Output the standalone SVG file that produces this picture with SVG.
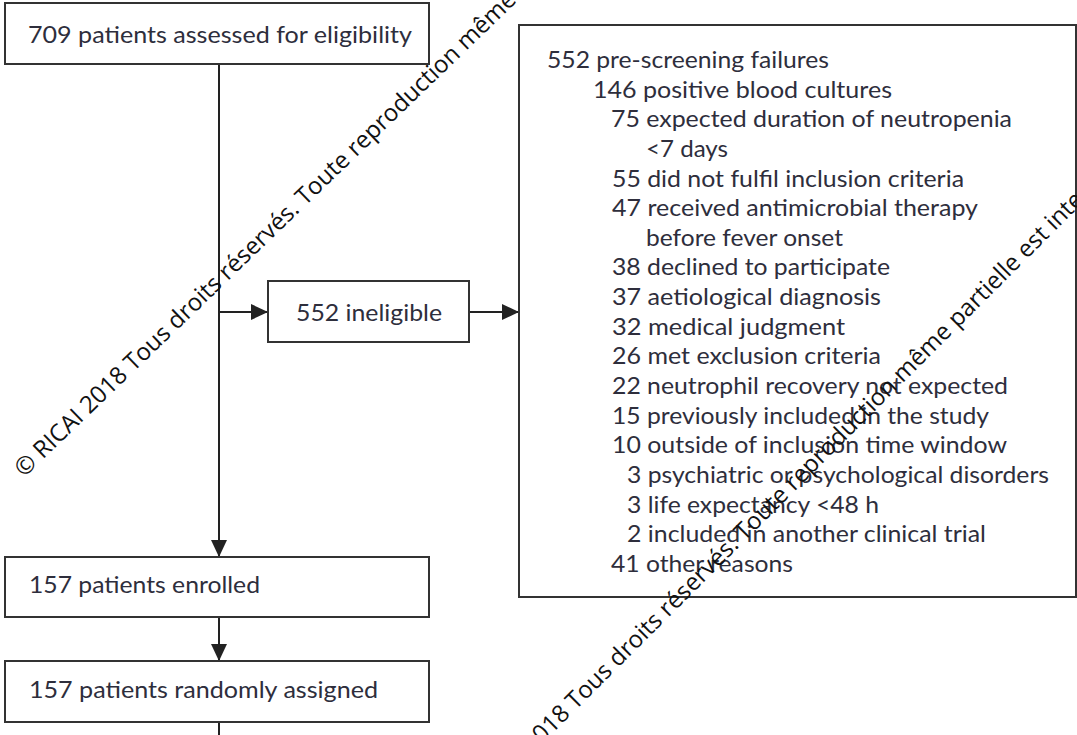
<svg xmlns="http://www.w3.org/2000/svg" width="1077" height="735" viewBox="0 0 1077 735">
<style>
.box{fill:#fff;stroke:#333;stroke-width:2}
.t{font-family:"Lato","Open Sans",sans-serif;font-size:23px;fill:#2e2e3c}
.c{stroke:#222;stroke-width:2;fill:none}
.wm{font-family:"Open Sans","DejaVu Sans",sans-serif;font-size:24px;fill:#111}
</style>
<defs>
<marker id="ah" markerUnits="userSpaceOnUse" markerWidth="17" markerHeight="16" refX="17" refY="8" orient="auto">
<path d="M0,0 L17,8 L0,16 z" fill="#222"/>
</marker>
</defs>
<rect width="1077" height="735" fill="#fff"/>
<g id="connectors">
<line class="c" x1="219" y1="64" x2="219" y2="557" marker-end="url(#ah)"/>
<line class="c" x1="219" y1="312" x2="268" y2="312" marker-end="url(#ah)"/>
<line class="c" x1="469" y1="312" x2="519" y2="312" marker-end="url(#ah)"/>
<line class="c" x1="219" y1="617" x2="219" y2="661" marker-end="url(#ah)"/>
<line class="c" x1="219" y1="722" x2="219" y2="735"/>
</g>
<g id="assessed">
<rect class="box" x="5" y="3" width="424" height="61"/>
<text class="t" x="28" y="43" textLength="384" lengthAdjust="spacingAndGlyphs">709 patients assessed for eligibility</text>
</g>
<g id="ineligible">
<rect class="box" x="268" y="281" width="201" height="61"/>
<text class="t" x="296" y="321" textLength="146" lengthAdjust="spacingAndGlyphs">552 ineligible</text>
</g>
<g id="enrolled">
<rect class="box" x="5" y="557" width="424" height="60"/>
<text class="t" x="29" y="593" textLength="231" lengthAdjust="spacingAndGlyphs">157 patients enrolled</text>
</g>
<g id="randomised">
<rect class="box" x="5" y="661" width="424" height="61"/>
<text class="t" x="29" y="698" textLength="349" lengthAdjust="spacingAndGlyphs">157 patients randomly assigned</text>
</g>
<g id="failures">
<rect class="box" x="519" y="25" width="557" height="572"/>
<text class="t" x="547" y="68" textLength="282" lengthAdjust="spacingAndGlyphs">552 pre-screening failures</text>
<text class="t" x="593" y="98" textLength="299" lengthAdjust="spacingAndGlyphs">146 positive blood cultures</text>
<text class="t" x="611" y="127" textLength="401" lengthAdjust="spacingAndGlyphs">75 expected duration of neutropenia</text>
<text class="t" x="646" y="157" textLength="82" lengthAdjust="spacingAndGlyphs">&lt;7 days</text>
<text class="t" x="612" y="187" textLength="352" lengthAdjust="spacingAndGlyphs">55 did not fulfil inclusion criteria</text>
<text class="t" x="612" y="216" textLength="366" lengthAdjust="spacingAndGlyphs">47 received antimicrobial therapy</text>
<text class="t" x="646" y="246" textLength="197" lengthAdjust="spacingAndGlyphs">before fever onset</text>
<text class="t" x="612" y="275" textLength="278" lengthAdjust="spacingAndGlyphs">38 declined to participate</text>
<text class="t" x="612" y="305" textLength="269" lengthAdjust="spacingAndGlyphs">37 aetiological diagnosis</text>
<text class="t" x="612" y="335" textLength="233" lengthAdjust="spacingAndGlyphs">32 medical judgment</text>
<text class="t" x="612" y="364" textLength="269" lengthAdjust="spacingAndGlyphs">26 met exclusion criteria</text>
<text class="t" x="612" y="394" textLength="396" lengthAdjust="spacingAndGlyphs">22 neutrophil recovery not expected</text>
<text class="t" x="612" y="424" textLength="377" lengthAdjust="spacingAndGlyphs">15 previously included in the study</text>
<text class="t" x="612" y="453" textLength="395" lengthAdjust="spacingAndGlyphs">10 outside of inclusion time window</text>
<text class="t" x="627" y="483" textLength="422" lengthAdjust="spacingAndGlyphs">3 psychiatric or psychological disorders</text>
<text class="t" x="627" y="513" textLength="252" lengthAdjust="spacingAndGlyphs">3 life expectancy &lt;48 h</text>
<text class="t" x="627" y="542" textLength="359" lengthAdjust="spacingAndGlyphs">2 included in another clinical trial</text>
<text class="t" x="611" y="572" textLength="182" lengthAdjust="spacingAndGlyphs">41 other reasons</text>
</g>
<g id="watermarks">
<text class="wm" transform="translate(24,478) rotate(-44)">© RICAI 2018 Tous droits réservés. Toute reproduction même partielle est interdite</text>
<text class="wm" transform="translate(468,818) rotate(-45)">© RICAI 2018 Tous droits réservés. Toute reproduction même partielle est interdite</text>
</g>
</svg>
